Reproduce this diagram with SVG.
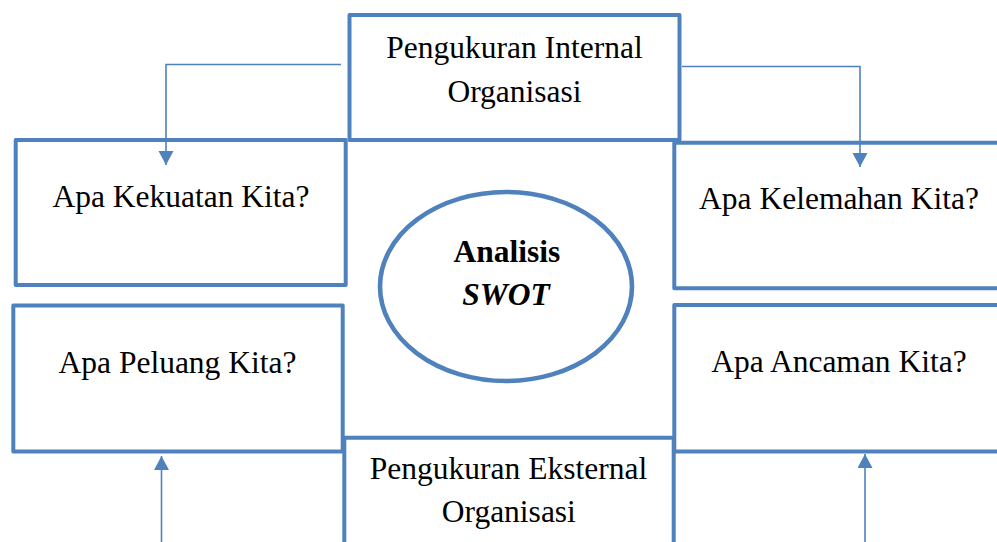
<svg xmlns="http://www.w3.org/2000/svg" width="997" height="542" viewBox="0 0 997 542">
<defs>
<style>
.box{fill:#fff;stroke:#4F81BD;stroke-width:4;stroke-linejoin:round}
.ell{fill:#fff;stroke:#4F81BD;stroke-width:4.6}
.conn{fill:none;stroke:#4F81BD;stroke-width:1.6}
.t{font-family:"Liberation Serif","Times New Roman",serif;font-size:31.5px;fill:#000;text-anchor:middle}
.b{font-weight:bold}
.bi{font-weight:bold;font-style:italic}
</style>
<marker id="arr" markerUnits="userSpaceOnUse" markerWidth="16" markerHeight="16" refX="14" refY="7.5" orient="auto">
<path d="M0,0 L14,7.5 L0,15 z" fill="#4F81BD"/>
</marker>
</defs>
<g id="internal">
<rect class="box" x="349.5" y="15" width="330" height="125"/>
<text class="t" x="514.5" y="58.3">Pengukuran Internal</text>
<text class="t" x="514.5" y="101.5">Organisasi</text>
</g>
<g id="kekuatan">
<rect class="box" x="15.7" y="140" width="330" height="145"/>
<text class="t" x="181" y="206.7">Apa Kekuatan Kita?</text>
</g>
<g id="kelemahan">
<rect class="box" x="674.3" y="142.7" width="340" height="145.6"/>
<text class="t" x="839" y="209.3">Apa Kelemahan Kita?</text>
</g>
<g id="peluang">
<rect class="box" x="13.3" y="305.5" width="329.4" height="146"/>
<text class="t" x="177.5" y="372.7">Apa Peluang Kita?</text>
</g>
<g id="ancaman">
<rect class="box" x="674.3" y="305" width="340" height="146.6"/>
<text class="t" x="839" y="371.7">Apa Ancaman Kita?</text>
</g>
<g id="eksternal">
<rect class="box" x="344.3" y="437.7" width="329.4" height="130"/>
<text class="t" x="508.5" y="479.3">Pengukuran Eksternal</text>
<text class="t" x="508.8" y="522.3">Organisasi</text>
</g>
<g id="swot">
<ellipse class="ell" cx="506" cy="286.5" rx="126" ry="94.5"/>
<text class="t b" x="506.8" y="261.7">Analisis</text>
<text class="t bi" x="506" y="305">SWOT</text>
</g>
<g id="connectors">
<path class="conn" d="M341,64.5 H166 V165" marker-end="url(#arr)"/>
<path class="conn" d="M682,66.5 H860 V167" marker-end="url(#arr)"/>
<path class="conn" d="M161.5,560 V456" marker-end="url(#arr)"/>
<path class="conn" d="M865,560 V454" marker-end="url(#arr)"/>
</g>
</svg>
